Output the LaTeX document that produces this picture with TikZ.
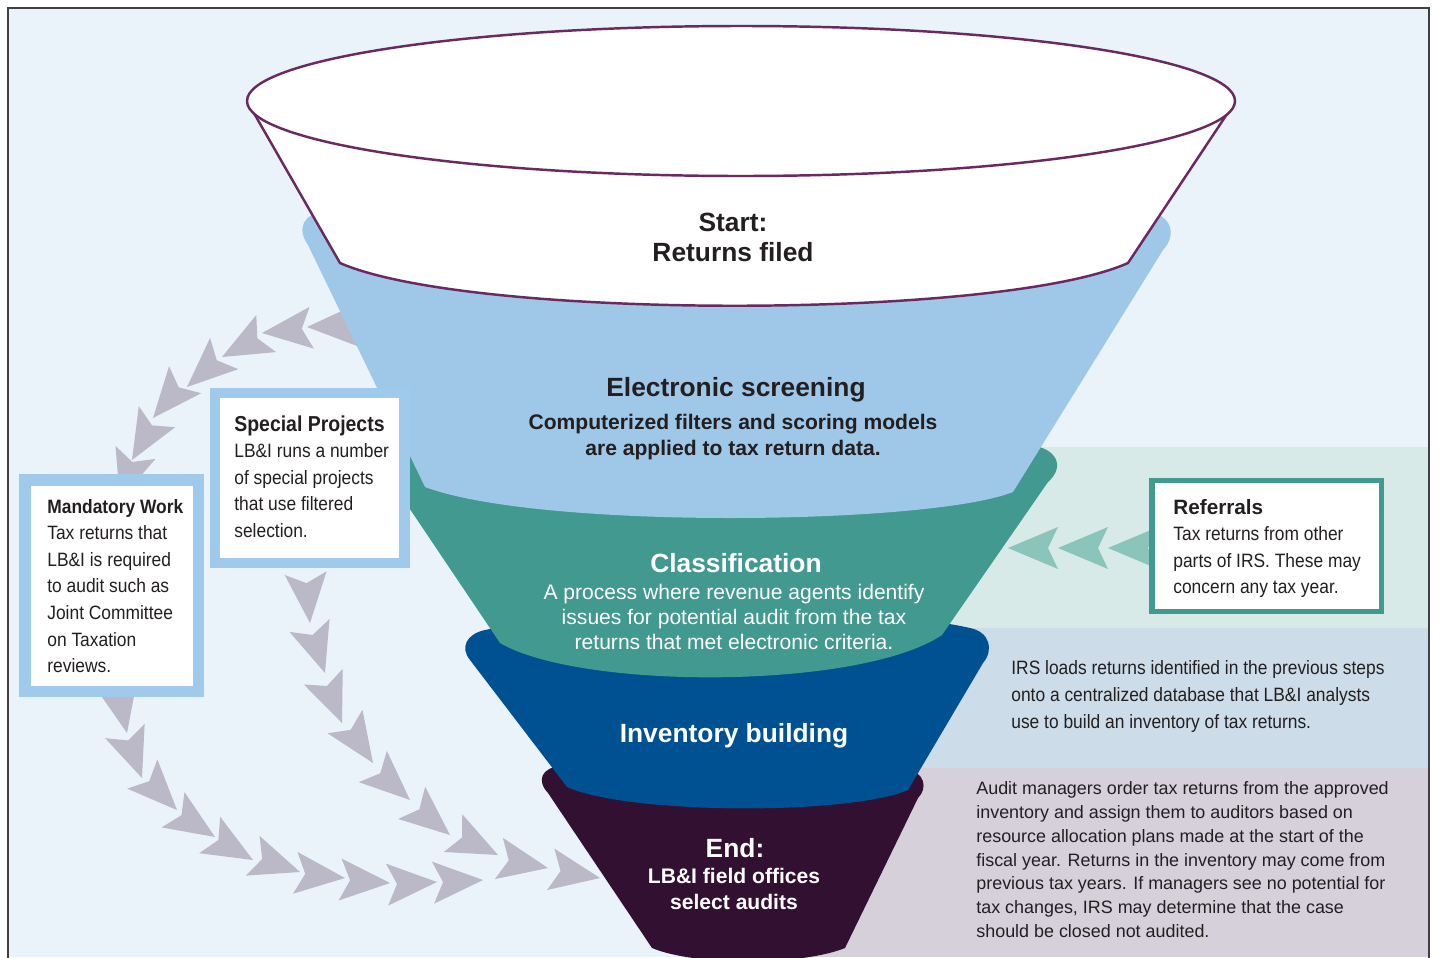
\documentclass[tikz,border=0pt]{standalone}
\usepackage{fontspec}
\setmainfont{Liberation Sans}
\newfontfamily\narrowfont{Liberation Sans}[FakeStretch=0.9]
\usepackage{xcolor}
\usetikzlibrary{positioning}

\definecolor{bgblue}{HTML}{EAF2FA}
\definecolor{refband}{HTML}{D8EAE7}
\definecolor{invband}{HTML}{CCDCE8}
\definecolor{endband}{HTML}{D6D0DA}
\definecolor{screenblue}{HTML}{9FC7E8}
\definecolor{classteal}{HTML}{41998F}
\definecolor{invblue}{HTML}{005192}
\definecolor{endpurple}{HTML}{321031}
\definecolor{rimpurple}{HTML}{6A2A5F}
\definecolor{chevgray}{HTML}{BBB8C8}
\definecolor{chevteal}{HTML}{8AC4BB}
\definecolor{boxblue}{HTML}{9FCAEB}
\definecolor{textdark}{HTML}{231F20}
\definecolor{framegray}{HTML}{404040}

\begin{document}
\begin{tikzpicture}[
    x=0.02cm, y=-0.02cm,
    stage/.style={text=textdark, font=\bfseries\fontsize{15}{17}\selectfont, align=center, inner sep=0pt},
    stagewhite/.style={stage, text=white},
    desc/.style={text=textdark, font=\bfseries\fontsize{12}{15.3}\selectfont, align=center, inner sep=0pt},
    boxtext/.style={text=textdark, font=\narrowfont\fontsize{11}{15.1}\selectfont, align=left,
                    anchor=north west, inner sep=0pt},
    notebox/.style={rectangle, fill=white},
    graychev/.pic={\fill[chevgray] (0,0) -- (-50,21) -- (-40,0) -- (-50,-21) -- cycle;},
    tealchev/.pic={\fill[chevteal] (0,0) -- (-50,21) -- (-40,0) -- (-50,-21) -- cycle;}
]

%% ===== BACKGROUND AND SIDE BANDS =====
\useasboundingbox (0,0) rectangle (1439,957);
\fill[white] (0,0) rectangle (1439,957);
\fill[bgblue] (8,8) rectangle (1429,957);
\fill[refband] (700,447) rectangle (1429,628);
\fill[invband] (700,628) rectangle (1429,768);
\fill[endband] (700,768) rectangle (1429,957);

%% ===== CHEVRONS: outer arc down to Mandatory Work =====
\pic[rotate=182] at (307,327) {graychev};
\pic[rotate=186] at (262,333) {graychev};
\pic[rotate=208] at (222,357) {graychev};
\pic[rotate=222] at (187,387) {graychev};
\pic[rotate=230] at (153,418) {graychev};
\pic[rotate=240] at (132,460) {graychev};
\pic[rotate=252] at (120,500) {graychev};

%% ===== CHEVRONS: Mandatory Work to End =====
\pic[rotate=-78] at (127,733) {graychev};
\pic[rotate=-70] at (142,778) {graychev};
\pic[rotate=-46] at (177,810) {graychev};
\pic[rotate=-33] at (215,837) {graychev};
\pic[rotate=-30] at (253,860) {graychev};
\pic[rotate=-19] at (300,872) {graychev};
\pic[rotate=-6]  at (345,878) {graychev};
\pic[rotate=-4]  at (390,883) {graychev};
\pic[rotate=3]   at (437,882) {graychev};
\pic[rotate=3]   at (483,880) {graychev};

%% ===== CHEVRONS: Special Projects to End =====
\pic[rotate=-85] at (310,623) {graychev};
\pic[rotate=-72] at (325,673) {graychev};
\pic[rotate=-68] at (342,723) {graychev};
\pic[rotate=-56] at (373,763) {graychev};
\pic[rotate=-42] at (410,800) {graychev};
\pic[rotate=-40] at (450,835) {graychev};
\pic[rotate=-26] at (498,855) {graychev};
\pic[rotate=-11] at (548,868) {graychev};
\pic[rotate=-10] at (600,878) {graychev};

%% ===== CHEVRONS: Referrals =====
\pic[rotate=180] at (1008,548) {tealchev};
\pic[rotate=180] at (1058,548) {tealchev};
\pic[rotate=180] at (1108,548) {tealchev};

%% ===== FUNNEL LAYERS (bottom first) =====
\fill[endpurple] (652,948) -- (548,793) .. controls (536,780) and (542,768) .. (560,766)
    .. controls (650,745) and (820,745) .. (905,768) .. controls (925,772) and (928,788) .. (918,798)
    -- (845,948) .. controls (800,966) and (695,966) .. (652,948) -- cycle;
\fill[invblue] (567,787) -- (470,660) .. controls (460,648) and (466,634) .. (485,630)
    .. controls (600,605) and (870,605) .. (970,628) .. controls (990,632) and (994,650) .. (983,663)
    -- (908,790) .. controls (850,815) and (630,815) .. (567,787) -- cycle;
\fill[classteal] (500,643) -- (385,472) .. controls (378,458) and (392,447) .. (415,445)
    -- (1030,445) .. controls (1056,448) and (1066,466) .. (1048,482)
    -- (942,635) .. controls (860,690) and (580,690) .. (500,643) -- cycle;
\fill[screenblue] (425,487) -- (308,245) .. controls (296,228) and (304,213) .. (325,212)
    -- (1148,212) .. controls (1170,214) and (1178,234) .. (1163,250)
    -- (1013,492) .. controls (930,525) and (540,530) .. (425,487) -- cycle;

%% ===== FUNNEL TOP: open cup =====
\fill[white] (251,108) -- (340,263) .. controls (470,320) and (1000,320) .. (1128,263)
    -- (1231,108) -- cycle;
\draw[rimpurple, line width=1.4pt] (251,108) -- (340,263)
    .. controls (470,320) and (1000,320) .. (1128,263) -- (1231,108);
\filldraw[fill=white, draw=rimpurple, line width=1.4pt] (741,101) ellipse [x radius=494, y radius=75];

%% ===== STAGE LABELS =====
\node[stage] (start) at (733,237) {Start:\\Returns filed};
\node[stage] (screen) at (736,390) {Electronic screening};
\node[desc] (screendesc) at (733,437) {Computerized filters and scoring models\\are applied to tax return data.};
\node[stagewhite] (class) at (736,563) {Classification};
\node[text=white, font=\fontsize{12}{14.2}\selectfont, align=center, inner sep=0pt] (classdesc) at (734,617)
    {A process where revenue agents identify\\issues for potential audit from the tax\\returns that met electronic criteria.};
\node[stagewhite] (inv) at (734,736) {Inventory building};
\node[stagewhite] (endlbl) at (735,848) {End:};
\node[desc, text=white] (enddesc) at (734,889) {LB\&I field offices\\select audits};

%% ===== SIDE BOXES =====
\node[notebox, draw=boxblue, line width=0.21cm, minimum width=3.79cm, minimum height=3.4cm] (spbox) at (309.75,478) {};
\node[boxtext] (sptext) at (234,415) {{\bfseries\fontsize{12.3}{15.1}\selectfont Special Projects}\\LB\&I runs a number\\of special projects\\that use filtered\\selection.};

\node[notebox, draw=boxblue, line width=0.23cm, minimum width=3.47cm, minimum height=4.23cm] (mwbox) at (111.75,585.75) {};
\node[boxtext] (mwtext) at (47,499) {{\bfseries Mandatory Work}\\Tax returns that\\LB\&I is required\\to audit such as\\Joint Committee\\on Taxation\\reviews.};

\node[notebox, draw=classteal, line width=0.11cm, minimum width=4.59cm, minimum height=2.62cm] (refbox) at (1266.75,546) {};
\node[boxtext] (reftext) at (1173,499) {{\normalfont\bfseries\fontsize{11.8}{15.1}\selectfont Referrals}\\Tax returns from other\\parts of IRS. These may\\concern any tax year.};

%% ===== BAND NOTES =====
\node[boxtext, font=\narrowfont\fontsize{11}{15.3}\selectfont] (invnote) at (1011,660)
    {IRS loads returns identified in the previous steps\\onto a centralized database that LB\&I analysts\\use to build an inventory of tax returns.};
\node[boxtext, font=\fontsize{10.2}{13.6}\selectfont] (endnote) at (976,781)
    {Audit managers order tax returns from the approved\\inventory and assign them to auditors based on\\resource allocation plans made at the start of the\\fiscal year. Returns in the inventory may come from\\previous tax years. If managers see no potential for\\tax changes, IRS may determine that the case\\should be closed not audited.};

%% ===== FRAME =====
\draw[framegray, line width=1.1pt] (8,970) -- (8,8) -- (1429,8) -- (1429,970);

\end{tikzpicture}
\end{document}
